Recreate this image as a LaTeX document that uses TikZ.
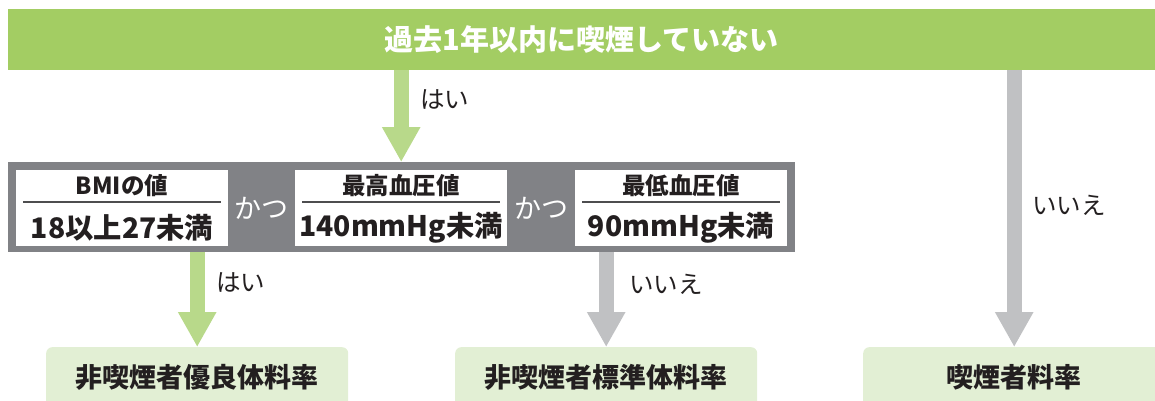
\documentclass[tikz,border=0pt]{standalone}
\usepackage{fontspec}
\setmainfont{Noto Sans CJK JP}
\usetikzlibrary{arrows.meta}
\definecolor{topgreen}{HTML}{A3CD63}
\definecolor{arrgreen}{HTML}{B8D98A}
\definecolor{arrgray}{HTML}{C0C1C3}
\definecolor{bargray}{HTML}{818286}
\definecolor{resbox}{HTML}{E2EFD4}
\definecolor{ink}{HTML}{231F20}
\definecolor{rule}{HTML}{4D4D4F}
\tikzset{
  condbox/.style={fill=white, draw=none, inner sep=0pt, minimum width=212pt, minimum height=76pt, anchor=north west},
  condhead/.style={text=ink, font=\fontsize{23.5}{26}\selectfont\bfseries, inner sep=0pt},
  condval/.style={text=ink, font=\fontsize{28.3}{32}\selectfont\bfseries, inner sep=0pt},
  kastyle/.style={text=white, font=\fontsize{27}{30}\selectfont, inner sep=0pt},
  resultbox/.style={fill=resbox, rounded corners=6pt, inner sep=0pt, minimum width=302pt, minimum height=60pt, anchor=north west, text=ink, font=\fontsize{27}{30}\selectfont\bfseries},
  answer/.style={text=ink, font=\fontsize{24.5}{28}\selectfont, inner sep=0pt, anchor=west},
  fatarrow/.style={line width=15pt, -{Triangle[width=36pt,length=35pt]}},
  divider/.style={draw=rule, line width=1.2pt}
}
\begin{document}
\begin{tikzpicture}[x=1pt,y=-1pt]
\useasboundingbox (0,0) rectangle (1155,401);
\clip (0,0) rectangle (1155,401);
% question bar
\node[fill=topgreen, inner sep=0pt, minimum width=1147pt, minimum height=61pt, anchor=north west,
      text=white, font=\fontsize{29}{32}\selectfont\bfseries] (q1) at (8,9) {過去1年以内に喫煙していない};
% condition bar
\node[fill=bargray, inner sep=0pt, minimum width=787pt, minimum height=90pt, anchor=north west] (q2) at (8,162) {};
\node[condbox] (c1) at (16,170) {};
\node[condbox] (c2) at (295,170) {};
\node[condbox] (c3) at (575,170) {};
\draw[divider] (23,202) -- (221,202);
\draw[divider] (302,202) -- (500,202);
\draw[divider] (582,202) -- (780,202);
\node[condhead] (c1h) at (122,186) {BMIの値};
\node[condhead] (c2h) at (401,186) {最高血圧値};
\node[condhead] (c3h) at (681,186) {最低血圧値};
\node[condval] (c1v) at (122,228) {18以上27未満};
\node[condval] (c2v) at (401,228) {140mmHg未満};
\node[condval] (c3v) at (681,228) {90mmHg未満};
\node[kastyle] (k1) at (261.5,208) {かつ};
\node[kastyle] (k2) at (541,208) {かつ};
% results
\node[resultbox] (r1) at (46,347) {非喫煙者優良体料率};
\node[resultbox] (r2) at (455,347) {非喫煙者標準体料率};
\node[resultbox] (r3) at (863,347) {喫煙者料率};
% arrows
\draw[fatarrow, arrgreen] (q1.south -| c2.north) -- (q2.north -| c2.north);
\draw[fatarrow, arrgreen] (q2.south -| r1.north) -- (r1.north);
\draw[fatarrow, arrgray] (q2.south -| r2.north) -- (r2.north);
\draw[fatarrow, arrgray] (q1.south -| r3.north) -- (r3.north);
% answers
\node[answer] (l1) at (420,100) {はい};
\node[answer] (l2) at (216,283) {はい};
\node[answer] (l3) at (629,284) {いいえ};
\node[answer] (l4) at (1032,205) {いいえ};
\end{tikzpicture}
\end{document}
